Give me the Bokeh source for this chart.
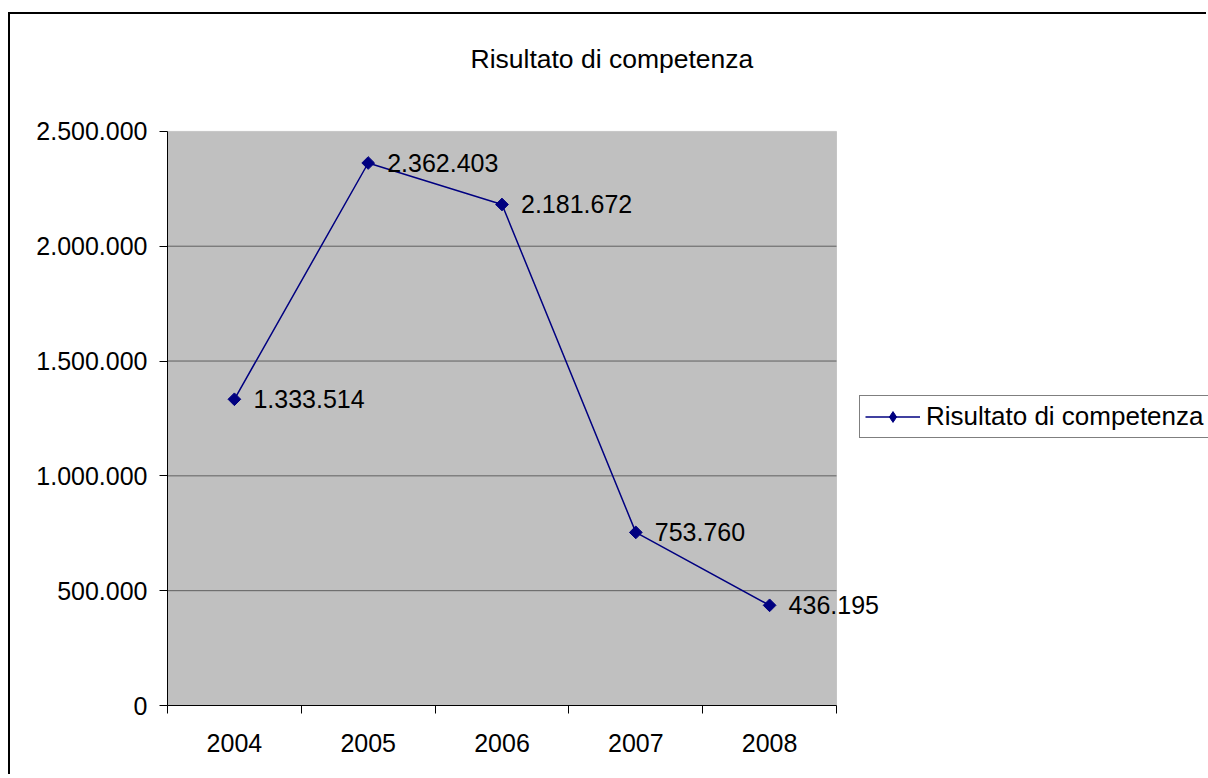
import math
from bokeh.plotting import figure
from bokeh.models import (ColumnDataSource, Label, Legend, LegendItem, FixedTicker, Range1d,
                          BoxAnnotation)
from bokeh.embed import file_html
from bokeh.resources import INLINE

# ---- data ----
years = ["2004", "2005", "2006", "2007", "2008"]
values = [1333514, 2362403, 2181672, 753760, 436195]
y_ticks = [0, 500000, 1000000, 1500000, 2000000, 2500000]
y_tick_labels = ["0", "500.000", "1.000.000", "1.500.000", "2.000.000", "2.500.000"]
series_name = "Risultato di competenza"
title_text = "Risultato di competenza"

FONT = "Liberation Sans"
FS = "25px"
FS_TXT = "26.5px"
FS_LEG = "26px"
NAVY = "#000080"

n = len(years)
xpos = [i + 0.5 for i in range(n)]
labels = [f"{v:,}".replace(",", ".") for v in values]
src = ColumnDataSource(dict(x=xpos, y=values, lab=labels))

W, H = 1198, 762
LEFT, TOP, BOTTOM = 157, 84, 71
PLOT_W, PLOT_H = 669, 576       # pixel size of the grey plot area
FRAME_H = H - TOP - BOTTOM
x_end = n * (W - LEFT) / PLOT_W           # frame extends right so labels/legend are not clipped
y_end = y_ticks[-1] * FRAME_H / PLOT_H    # frame extends up toward the title

p = figure(width=W, height=H, output_backend="svg", toolbar_location=None,
           x_range=Range1d(0, x_end), y_range=Range1d(y_ticks[0], y_end),
           min_border_left=LEFT, min_border_top=TOP, min_border_right=0, min_border_bottom=BOTTOM,
           background_fill_color="white", border_fill_color="white",
           outline_line_color=None,
           styles={"border-top": "2px solid black", "border-left": "2px solid black",
                   "margin-top": "12px", "margin-left": "8px"})

p.title.text = title_text
p.title.text_font = FONT
p.title.text_font_size = FS_TXT
p.title.text_font_style = "normal"
p.title.text_color = "black"
p.title.align = "left"
p.title.offset = 303
p.title.vertical_align = "bottom"
p.title.standoff = 54

# grey plot area
p.add_layout(BoxAnnotation(left=0, right=n, bottom=y_ticks[0], top=y_ticks[-1],
                           fill_color="#C0C0C0", fill_alpha=1,
                           line_color="#8c8c8c", line_width=1, level="image"))

# horizontal gridlines restricted to the plot area
p.segment(x0=[0] * (len(y_ticks) - 2), x1=[n] * (len(y_ticks) - 2),
          y0=y_ticks[1:-1], y1=y_ticks[1:-1], line_color="#5f5f5f", line_width=1)

p.xgrid.visible = False
p.ygrid.visible = False

# x axis: labels at category centers, ticks at boundaries (minor ticks)
xa = p.xaxis[0]
xa.bounds = (0, n)
xa.ticker = FixedTicker(ticks=xpos, minor_ticks=list(range(n + 1)))
xa.major_label_overrides = {x: y for x, y in zip(xpos, years)}
xa.major_tick_out = 0
xa.major_tick_in = 0
xa.minor_tick_out = 8
xa.minor_tick_in = 0
xa.minor_tick_line_color = "black"
xa.axis_line_color = "black"
xa.major_label_text_font = FONT
xa.major_label_text_font_size = FS
xa.major_label_text_color = "black"
xa.major_label_standoff = 20

ya = p.yaxis[0]
ya.bounds = (y_ticks[0], y_ticks[-1])
ya.ticker = FixedTicker(ticks=y_ticks, minor_ticks=[])
ya.major_label_overrides = {t: l for t, l in zip(y_ticks, y_tick_labels)}
ya.major_tick_out = 8
ya.major_tick_in = 0
ya.major_tick_line_color = "black"
ya.axis_line_color = "black"
ya.major_label_text_font = FONT
ya.major_label_text_font_size = FS
ya.major_label_text_color = "black"
ya.major_label_standoff = 12

line_r = p.line("x", "y", source=src, line_color=NAVY, line_width=1.5)
# diamond used by the legend (hidden under the rotated squares in the plot)
leg_marker = p.scatter("x", "y", source=src, marker="diamond", size=9,
                       fill_color=NAVY, line_color=NAVY)
pts_r = p.scatter("x", "y", source=src, marker="square", angle=math.pi / 4, size=9,
                  fill_color=NAVY, line_color=NAVY)

for xv, yv, lab in zip(xpos, values, labels):
    p.add_layout(Label(x=xv, y=yv, text=lab, x_offset=19, y_offset=0,
                       text_font=FONT, text_font_size=FS, text_baseline="middle",
                       text_align="left", text_color="black"))

legend = Legend(items=[LegendItem(label=series_name, renderers=[line_r, leg_marker])],
                location=(692, 267), orientation="vertical",
                border_line_color="black", border_line_width=1,
                background_fill_color="white", background_fill_alpha=1,
                label_text_font=FONT, label_text_font_size=FS_LEG, label_text_color="black",
                glyph_width=55, glyph_height=27, label_standoff=6,
                padding=5, margin=0, spacing=0)
p.add_layout(legend)

open("out.html", "w").write(file_html(p, INLINE))
